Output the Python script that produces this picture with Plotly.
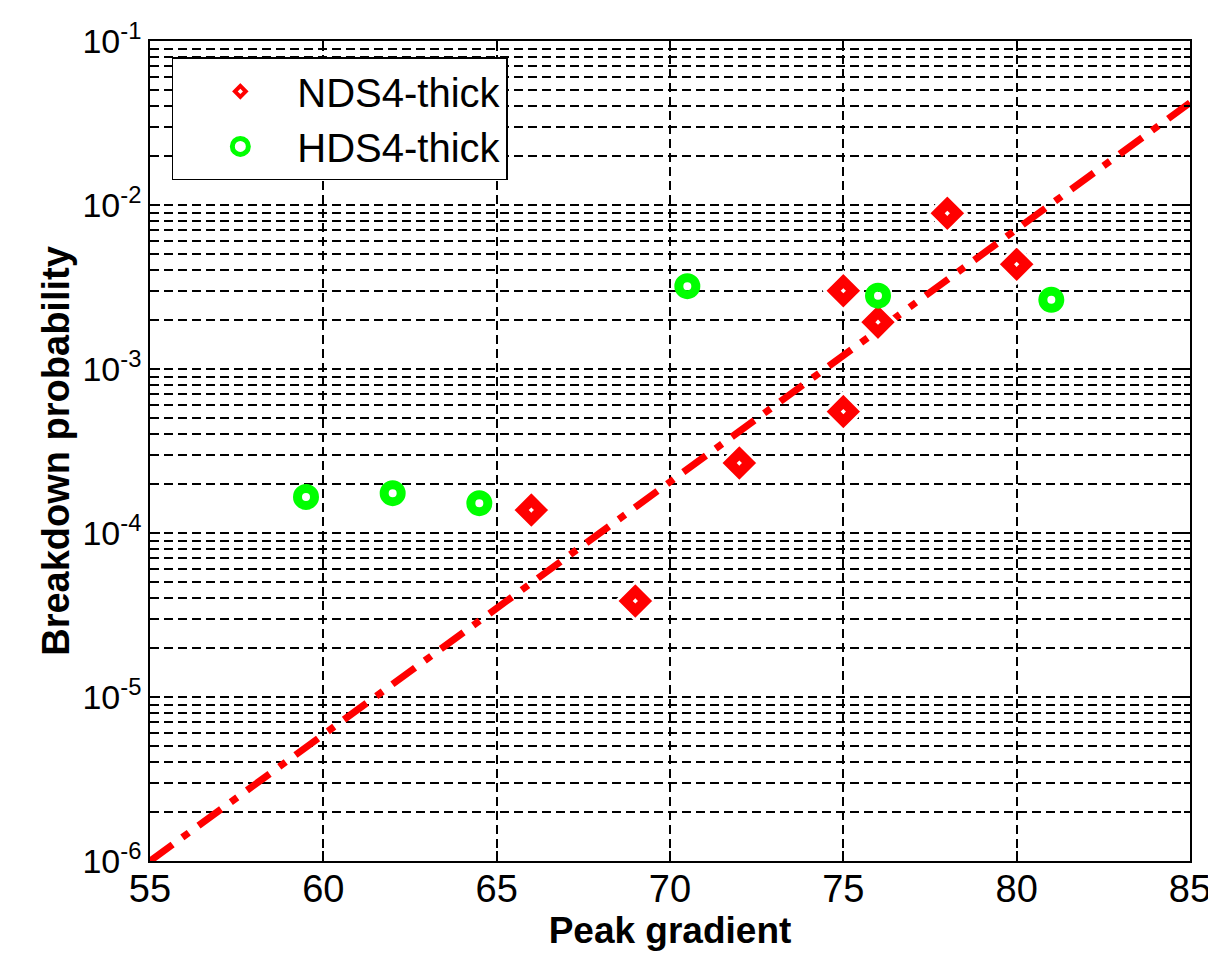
import plotly.graph_objects as go

# Data
nds_x = [66, 69, 72, 75, 75, 76, 78, 80]
nds_y = [1.38e-4, 3.85e-5, 2.67e-4, 5.5e-4, 3.0e-3, 1.93e-3, 8.9e-3, 4.35e-3]

hds_x = [59.5, 62, 64.5, 70.5, 76, 81]
hds_y = [1.66e-4, 1.75e-4, 1.52e-4, 3.2e-3, 2.8e-3, 2.64e-3]

fit_x = [55, 85]
fit_y = [1.0e-6, 4.2e-2]

x_ticks = [55, 60, 65, 70, 75, 80, 85]
y_exponents = [-6, -5, -4, -3, -2, -1]

y_tickvals = [10.0 ** e for e in y_exponents]
y_ticktext = ["10<sup>%d</sup>" % e for e in y_exponents]
y_minor = [k * 10.0 ** e for e in y_exponents[:-1] for k in range(2, 10)]

FONT = "Liberation Sans, Arial, sans-serif"

fig = go.Figure()

fig.add_trace(go.Scatter(
    x=fit_x, y=fit_y, mode="lines", showlegend=False,
    line=dict(color="#FF0000", width=7, dash="28px,12px,8px,12px"),
))

fig.add_trace(go.Scatter(
    x=nds_x, y=nds_y, mode="markers", name="NDS4-thick",
    marker=dict(symbol="diamond-dot", size=29, color="#FF0000",
                line=dict(color="white", width=3)),
))

fig.add_trace(go.Scatter(
    x=hds_x, y=hds_y, mode="markers", name="HDS4-thick",
    marker=dict(symbol="circle-open", size=17, color="#00FF00",
                line=dict(color="#00FF00", width=9)),
))

grid = dict(gridcolor="black", gridwidth=1.8, griddash="9px,5px")

fig.update_layout(
    width=1216, height=959,
    margin=dict(l=142, r=34, t=33, b=106),
    paper_bgcolor="white", plot_bgcolor="white",
    font=dict(family=FONT, color="black"),
    legend=dict(
        x=0.021, y=0.98, xanchor="left", yanchor="top",
        bgcolor="white", bordercolor="black", borderwidth=1.5,
        font=dict(family=FONT, size=40, color="black"),
        itemwidth=104, indentation=10,
        tracegroupgap=0,
    ),
    xaxis=dict(
        range=[55, 85], tickvals=x_ticks, ticktext=[str(v) for v in x_ticks],
        showgrid=True, **grid, automargin=False,
        showline=True, linecolor="black", linewidth=1.5, mirror="ticks",
        ticks="inside", ticklen=10, tickcolor="black", tickwidth=1.5,
        tickfont=dict(family=FONT, size=38), ticklabelstandoff=-6,
        title=dict(text="<b>Peak gradient</b>", font=dict(family=FONT, size=37), standoff=6),
        zeroline=False,
    ),
    yaxis=dict(
        type="log", range=[-6, -1], automargin=False,
        tickvals=y_tickvals, ticktext=y_ticktext,
        showgrid=True, **grid,
        minor=dict(tickvals=y_minor, showgrid=True, gridcolor="black", gridwidth=1.8,
                   griddash="9px,5px", ticks="inside", ticklen=6, tickcolor="black"),
        showline=True, linecolor="black", linewidth=1.5, mirror="ticks",
        ticks="inside", ticklen=10, tickcolor="black", tickwidth=1.5,
        tickfont=dict(family=FONT, size=34),
        title=dict(text="<b>Breakdown probability</b>", font=dict(family=FONT, size=38), standoff=1),
        zeroline=False,
    ),
)

fig.write_html("out.html")
